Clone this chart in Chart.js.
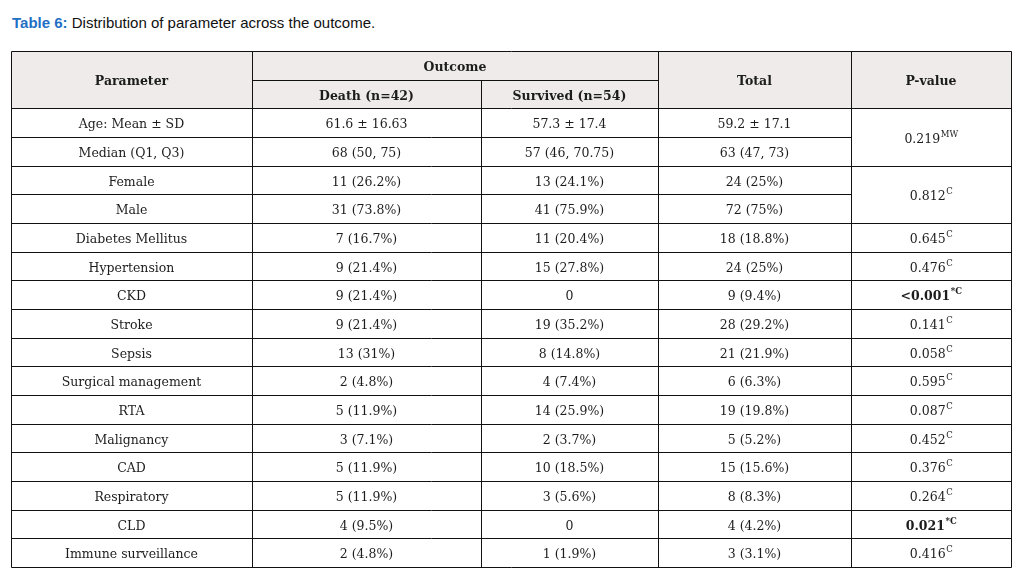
<!DOCTYPE html>
<html>
<head>
<meta charset="utf-8">
<script src="https://cdn.jsdelivr.net/npm/chart.js@4.4.1/dist/chart.umd.min.js"></script>
<style>
  html, body { margin:0; padding:0; background:#fff; }
  #wrap { position:relative; width:1033px; height:573px; overflow:hidden; }
  #caption { position:absolute; left:12px; top:14px; font-family:"Liberation Sans", Arial, sans-serif; font-size:15px; color:#111; white-space:nowrap; }
  #caption b { color:#1f6fc5; }
  #tbl { position:absolute; left:0; top:0; }
</style>
</head>
<body>
<div id="wrap">
  <div id="caption"><b>Table 6:</b> Distribution of parameter across the outcome.</div>
  <canvas id="tbl" width="1033" height="573"></canvas>
</div>
<script>
/* ── TABLE DATA ── */
var parameters = ['Age: Mean ± SD','Median (Q1, Q3)','Female','Male','Diabetes Mellitus','Hypertension','CKD','Stroke','Sepsis','Surgical management','RTA','Malignancy','CAD','Respiratory','CLD','Immune surveillance'];
var death      = ['61.6 ± 16.63','68 (50, 75)','11 (26.2%)','31 (73.8%)','7 (16.7%)','9 (21.4%)','9 (21.4%)','9 (21.4%)','13 (31%)','2 (4.8%)','5 (11.9%)','3 (7.1%)','5 (11.9%)','5 (11.9%)','4 (9.5%)','2 (4.8%)'];
var survived   = ['57.3 ± 17.4','57 (46, 70.75)','13 (24.1%)','41 (75.9%)','11 (20.4%)','15 (27.8%)','0','19 (35.2%)','8 (14.8%)','4 (7.4%)','14 (25.9%)','2 (3.7%)','10 (18.5%)','3 (5.6%)','0','1 (1.9%)'];
var total      = ['59.2 ± 17.1','63 (47, 73)','24 (25%)','72 (75%)','18 (18.8%)','24 (25%)','9 (9.4%)','28 (29.2%)','21 (21.9%)','6 (6.3%)','19 (19.8%)','5 (5.2%)','15 (15.6%)','8 (8.3%)','4 (4.2%)','3 (3.1%)'];
// p-values: some span two rows (age, gender)
var pValues    = ['0.219','0.812','0.645','0.476','<0.001','0.141','0.058','0.595','0.087','0.452','0.376','0.264','0.021','0.416'];
var pSup       = ['MW','C','C','C','*C','C','C','C','C','C','C','C','*C','C'];
var pSpan      = [2,2,1,1,1,1,1,1,1,1,1,1,1,1];
var pBold      = [false,false,false,false,true,false,false,false,false,false,false,false,true,false];
var headers    = ['Parameter','Outcome','Death (n=42)','Survived (n=54)','Total','P-value'];

/* ── layout (x units across, y units = rows) ── */
var colEdges = [0, 241, 470, 647, 840, 1000];
var HEAD = 2;
var ROWS = HEAD + parameters.length;
var FONT = '"DejaVu Serif", "Liberation Serif", serif';
var INK  = '#1c1c1c';
var DY   = 2.5;

function mid(c){ return (colEdges[c] + colEdges[c+1]) / 2; }
function colPoints(arr, c){ return arr.map(function(v, i){ return { x: mid(c), y: HEAD + i + 0.5 }; }); }

var pPoints = [], pRows = [], r = HEAD;
pSpan.forEach(function(s){ pPoints.push({ x: mid(4), y: r + s / 2 }); pRows.push(r); r += s; });

var headPoints = [
  { x: mid(0), y: 1 }, { x: (colEdges[1] + colEdges[3]) / 2, y: 0.5 },
  { x: mid(1), y: 1.5 }, { x: mid(2), y: 1.5 }, { x: mid(3), y: 1 }, { x: mid(4), y: 1 }
];

var cellText = [parameters, death, survived, total];

/* ── plugin: draw grid + cell text from scale positions ── */
var tablePlugin = {
  id: 'tableCells',
  beforeDatasetsDraw: function(chart){
    var ctx = chart.ctx, xs = chart.scales.x, ys = chart.scales.y;
    function X(v){ return Math.round(xs.getPixelForValue(v)) + 0.5; }
    function Y(v){ return Math.round(ys.getPixelForValue(v)) + 0.5; }
    ctx.save();
    // header background
    ctx.fillStyle = '#efebeb';
    ctx.fillRect(X(0), Y(0), X(1000) - X(0), Y(HEAD) - Y(0));
    ctx.strokeStyle = '#111';
    ctx.lineWidth = 1;
    ctx.beginPath();
    // horizontal lines
    ctx.moveTo(X(0), Y(0)); ctx.lineTo(X(1000), Y(0));
    ctx.moveTo(X(colEdges[1]), Y(1)); ctx.lineTo(X(colEdges[3]), Y(1));
    for (var i = HEAD; i <= ROWS; i++){
      var y = Y(i);
      if (i === HEAD || i === ROWS){ ctx.moveTo(X(0), y); ctx.lineTo(X(1000), y); continue; }
      ctx.moveTo(X(0), y); ctx.lineTo(X(colEdges[4]), y);
      // p-value column: skip line inside merged cells
      if (pRows.indexOf(i) !== -1){ ctx.moveTo(X(colEdges[4]), y); ctx.lineTo(X(1000), y); }
    }
    // vertical lines
    colEdges.forEach(function(cx, c){
      if (c === 2){ ctx.moveTo(X(cx), Y(1)); ctx.lineTo(X(cx), Y(ROWS)); }
      else { ctx.moveTo(X(cx), Y(0)); ctx.lineTo(X(cx), Y(ROWS)); }
    });
    ctx.stroke();
    ctx.restore();
  },
  afterDatasetsDraw: function(chart){
    var ctx = chart.ctx;
    ctx.save();
    ctx.fillStyle = INK;
    ctx.textBaseline = 'middle';
    ctx.textAlign = 'center';
    // header
    ctx.font = 'bold 12.5px ' + FONT;
    chart.getDatasetMeta(0).data.forEach(function(el, i){ ctx.fillText(headers[i], el.x, el.y + DY); });
    // body columns
    ctx.font = '12.5px ' + FONT;
    for (var d = 1; d <= 4; d++){
      var arr = cellText[d - 1];
      chart.getDatasetMeta(d).data.forEach(function(el, i){ ctx.fillText(arr[i], el.x, el.y + DY); });
    }
    // p-values with superscripts
    ctx.textAlign = 'left';
    chart.getDatasetMeta(5).data.forEach(function(el, i){
      var main = (pBold[i] ? 'bold ' : '') + '12.5px ' + FONT;
      var sup  = (pBold[i] ? 'bold ' : '') + '8.5px ' + FONT;
      ctx.font = main; var w1 = ctx.measureText(pValues[i]).width;
      ctx.font = sup;  var w2 = ctx.measureText(pSup[i]).width;
      var x0 = el.x - (w1 + w2) / 2;
      ctx.font = main; ctx.fillText(pValues[i], x0, el.y + DY);
      ctx.font = sup;  ctx.fillText(pSup[i], x0 + w1 + 0.5, el.y + DY - 5);
    });
    ctx.restore();
  }
};

var hidden = { pointRadius: 0, pointHoverRadius: 0, showLine: false };
new Chart(document.getElementById('tbl'), {
  type: 'scatter',
  data: {
    datasets: [
      Object.assign({ label: 'header',   data: headPoints }, hidden),
      Object.assign({ label: 'parameter', data: colPoints(parameters, 0) }, hidden),
      Object.assign({ label: 'death',    data: colPoints(death, 1) }, hidden),
      Object.assign({ label: 'survived', data: colPoints(survived, 2) }, hidden),
      Object.assign({ label: 'total',    data: colPoints(total, 3) }, hidden),
      Object.assign({ label: 'p-value',  data: pPoints }, hidden)
    ]
  },
  options: {
    responsive: false,
    animation: false,
    layout: { padding: { left: 11, top: 51, right: 22, bottom: 6 } },
    plugins: { legend: { display: false }, tooltip: { enabled: false } },
    scales: {
      x: { type: 'linear', display: false, min: 0, max: 1000 },
      y: { type: 'linear', display: false, min: 0, max: ROWS, reverse: true }
    }
  },
  plugins: [tablePlugin]
});
</script>
</body>
</html>
